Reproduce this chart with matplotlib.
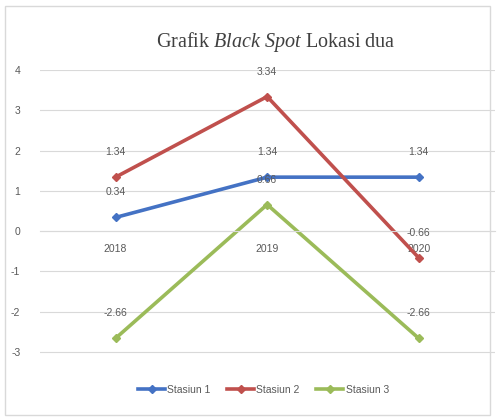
import matplotlib.pyplot as plt
import numpy as np

years = ['2018', '2019', '2020']
stasiun1 = [0.34, 1.34, 1.34]
stasiun2 = [1.34, 3.34, -0.66]
stasiun3 = [-2.66, 0.66, -2.66]
names = ['Stasiun 1', 'Stasiun 2', 'Stasiun 3']
colors = ['#4472C4', '#C0504D', '#9BBB59']

plt.rcParams['font.family'] = ['Liberation Sans', 'DejaVu Sans']
plt.rcParams['axes.unicode_minus'] = False
plt.rcParams['mathtext.fontset'] = 'custom'
plt.rcParams['mathtext.rm'] = 'Liberation Serif'
plt.rcParams['mathtext.it'] = 'Liberation Serif:italic'

fig = plt.figure(figsize=(4.97, 4.19), dpi=100)
fig.patches.append(plt.Rectangle((0.01, 0.01), 0.975, 0.975, transform=fig.transFigure,
                                 fill=False, edgecolor='#d9d9d9', lw=1))
ax = fig.add_axes([0.08, 0.155, 0.915, 0.678])

x = np.arange(len(years))
for ys, name, c in zip([stasiun1, stasiun2, stasiun3], names, colors):
    ax.plot(x, ys, color=c, lw=2.6, marker='D', markersize=4, label=name)
    for xi, yi in zip(x, ys):
        ax.annotate(f'{yi:.2f}', (xi, yi), xytext=(0, 18), textcoords='offset points',
                    ha='center', va='center', fontsize=7.5, color='#595959')

ax.set_xlim(-0.5, 2.5)
ax.set_ylim(-3.05, 4)
ax.set_yticks(range(-3, 5))
ax.grid(axis='y', color='#d9d9d9', lw=0.8)
ax.set_axisbelow(True)
for s in ['top', 'right', 'left']:
    ax.spines[s].set_visible(False)
ax.spines['bottom'].set_position(('data', 0))
ax.spines['bottom'].set_color('#d9d9d9')
ax.set_xticks(x)
ax.set_xticklabels(years)
ax.tick_params(axis='x', length=0, pad=9, labelsize=7.5, labelcolor='#595959')
ax.tick_params(axis='y', length=0, pad=14, labelsize=7.5, labelcolor='#595959')

fig.text(0.555, 0.9, r'Grafik $\mathit{Black\ Spot}$ Lokasi dua', ha='center', va='center',
         fontsize=14.5, family='Liberation Serif', color='#404040')

leg = fig.legend(loc='center', bbox_to_anchor=(0.53, 0.07), ncol=3, frameon=False,
                 fontsize=7.5, handlelength=2.6, columnspacing=1.6, handletextpad=0.2)
for t in leg.get_texts():
    t.set_color('#595959')

fig.savefig('out.png', dpi=100)
